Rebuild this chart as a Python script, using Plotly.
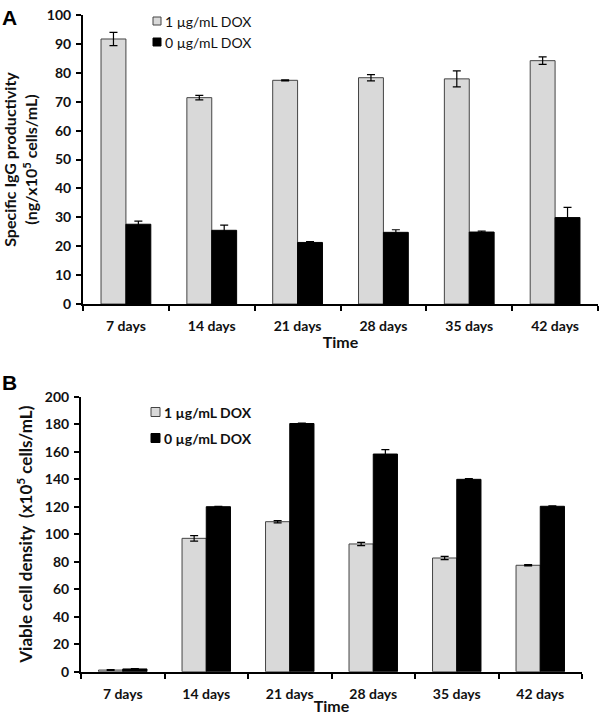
import plotly.graph_objects as go

categories = ["7 days", "14 days", "21 days", "28 days", "35 days", "42 days"]

# Panel A: specific IgG productivity (ng/x10^5 cells/mL)
a_dox1 = [91.7, 71.4, 77.4, 78.3, 77.9, 84.2]
a_dox1_err = [2.3, 0.8, 0.2, 1.1, 2.8, 1.3]
a_dox0 = [27.6, 25.5, 21.3, 24.8, 24.9, 29.9]
a_dox0_err = [1.1, 1.8, 0.3, 0.9, 0.3, 3.5]

# Panel B: viable cell density (x10^5 cells/mL)
b_dox1 = [1.2, 97.0, 109.1, 92.9, 82.7, 77.4]
b_dox1_err = [0.3, 2.0, 0.8, 1.2, 1.2, 0.5]
b_dox0 = [2.0, 120.0, 180.5, 158.3, 139.9, 120.3]
b_dox0_err = [0.3, 0.3, 0.3, 3.2, 0.5, 0.3]

series_names = ["1 µg/mL DOX", "0 µg/mL DOX"]

FONT = "Lato"
W, H = 600, 715
GRAY = "#d9d9d9"
EDGE = "#444444"

fig = go.Figure()

def add_bars(x, y, err, name, color, line_color, xa, ya):
    fig.add_trace(go.Bar(
        x=x, y=y, name=name, xaxis=xa, yaxis=ya, showlegend=False,
        marker=dict(color=color, line=dict(color=line_color, width=1)),
        error_y=dict(type="data", array=err, visible=True, color="black",
                     thickness=1.2, width=4),
    ))

add_bars(categories, a_dox1, a_dox1_err, series_names[0], GRAY, EDGE, "x", "y")
add_bars(categories, a_dox0, a_dox0_err, series_names[1], "black", "black", "x", "y")
add_bars(categories, b_dox1, b_dox1_err, series_names[0], GRAY, EDGE, "x2", "y2")
add_bars(categories, b_dox0, b_dox0_err, series_names[1], "black", "black", "x2", "y2")

tickfont = dict(family=FONT, size=14, color="#111111", weight="bold")
titlefontA = dict(family=FONT, size=16, color="#111111", weight="bold")
titlefontB = dict(family=FONT, size=17, color="#111111", weight="bold")
timefont = dict(family=FONT, size=16, color="#111111", weight="bold")

xcommon = dict(type="category", showline=True, linecolor="black", linewidth=2,
               ticks="outside", tickson="boundaries", ticklen=5, tickwidth=2,
               tickcolor="black", tickfont=tickfont, showgrid=False,
               ticklabelstandoff=8, zeroline=False, automargin=False)
ycommon = dict(showline=True, linecolor="black", linewidth=2, ticks="outside",
               ticklen=5, tickwidth=2, tickcolor="black", tickfont=tickfont,
               showgrid=False, zeroline=False, ticklabelstandoff=2, automargin=False)

# custom legends (square swatch + label)
shapes = []
annotations = []

def legend_item(x0, size, yc, fill, edge, text, bold):
    shapes.append(dict(type="rect", xref="paper", yref="paper",
                       x0=x0 / W, x1=(x0 + size) / W,
                       y0=1 - (yc + size / 2) / H, y1=1 - (yc - size / 2) / H,
                       fillcolor=fill, line=dict(color=edge, width=1)))
    annotations.append(dict(text=text, x=(x0 + size + 2) / W, y=1 - yc / H,
                            xref="paper", yref="paper", xanchor="left", yanchor="middle",
                            showarrow=False,
                            font=dict(family=FONT, size=14, color="#111111",
                                      weight="bold" if bold else "normal")))

legend_item(153, 8, 21, GRAY, EDGE, series_names[0], False)
legend_item(153, 8, 42, "black", "black", series_names[1], False)
legend_item(151, 9, 412, GRAY, EDGE, series_names[0], True)
legend_item(151, 9, 438, "black", "black", series_names[1], True)

annotations += [
    dict(text="<b>A</b>", x=0, y=1 - 4 / H, xref="paper", yref="paper",
         xanchor="left", yanchor="top", showarrow=False,
         font=dict(family="Liberation Sans", size=21, color="black")),
    dict(text="<b>B</b>", x=0, y=1 - 369 / H, xref="paper", yref="paper",
         xanchor="left", yanchor="top", showarrow=False,
         font=dict(family="Liberation Sans", size=21, color="black")),
]

fig.update_layout(
    template="none",
    width=W, height=H,
    margin=dict(l=0, r=0, t=0, b=0, pad=0),
    plot_bgcolor="white", paper_bgcolor="white",
    barmode="group", bargap=0.42, bargroupgap=0,
    showlegend=False,
    font=dict(family=FONT, color="#111111"),
    xaxis=dict(domain=[83 / W, 598 / W], anchor="y",
               title=dict(text="Time", font=timefont, standoff=4), **xcommon),
    yaxis=dict(domain=[1 - 304 / H, 1 - 15 / H], anchor="x", range=[0, 100], dtick=10,
               title=dict(text="Specific IgG productivity<br>(ng/x10<sup>5</sup> cells/mL)",
                          font=titlefontA, standoff=5), **ycommon),
    xaxis2=dict(domain=[81 / W, 582 / W], anchor="y2",
                title=dict(text="Time", font=timefont, standoff=4), **xcommon),
    yaxis2=dict(domain=[1 - 671.7 / H, 1 - 396.7 / H], anchor="x2", range=[0, 200], dtick=20,
                title=dict(text="Viable cell density  (x10<sup>5</sup> cells/mL)",
                           font=titlefontB, standoff=8), **ycommon),
    shapes=shapes,
    annotations=annotations,
)

fig.write_html("out.html", config={"displayModeBar": False},
               post_script="document.body.style.margin='0px';")
